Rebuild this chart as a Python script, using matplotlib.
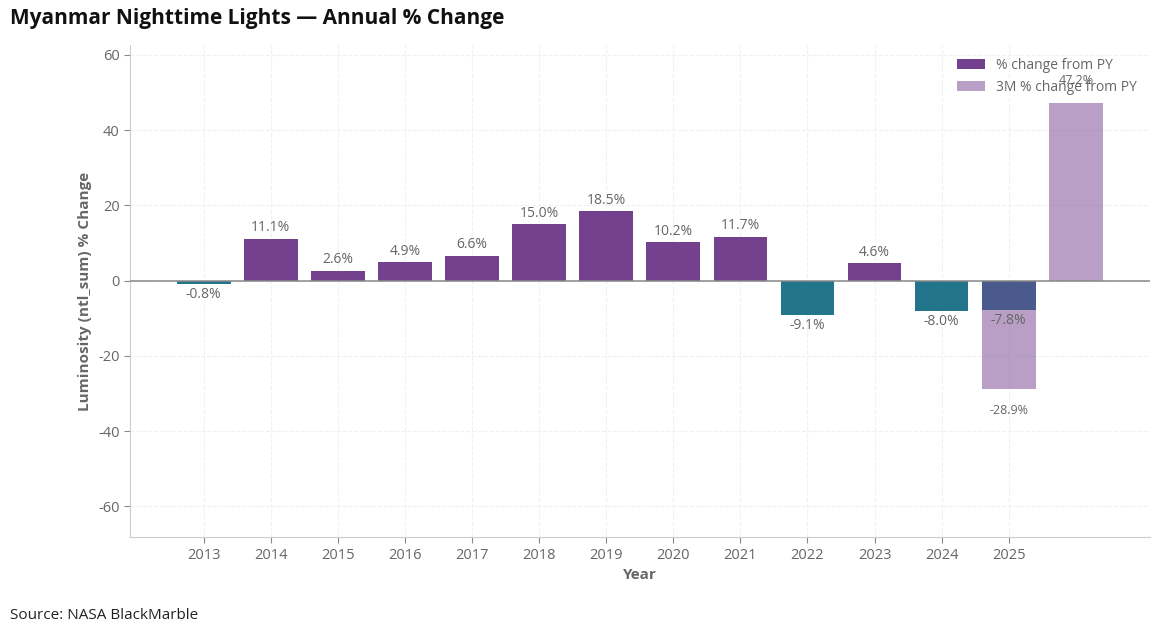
import numpy as np
import matplotlib
matplotlib.use("Agg")
import matplotlib.pyplot as plt
from matplotlib.patches import Patch

plt.rcParams["font.family"] = ["Open Sans", "DejaVu Sans"]
plt.rcParams["axes.unicode_minus"] = False

years = [2013, 2014, 2015, 2016, 2017, 2018, 2019, 2020, 2021, 2022, 2023, 2024, 2025]
pct_change = [-0.8, 11.1, 2.6, 4.9, 6.6, 15.0, 18.5, 10.2, 11.7, -9.1, 4.6, -8.0, -7.8]

# 3-month comparisons (last one sits right of 2025, no tick label)
m3_pos = [2025, 2026]
m3_change = [-28.9, 47.2]

purple = "#74418F"
teal = "#23758B"
grey_txt = "#666666"

fig = plt.figure(figsize=(11.6, 6.35), dpi=100)
ax = fig.add_axes([0.112, 0.154, 0.879, 0.775])

colors = [purple if v >= 0 else teal for v in pct_change]
ax.bar(years, pct_change, width=0.8, color=colors, zorder=2)
ax.bar(m3_pos, m3_change, width=0.8, color=purple, alpha=0.5, zorder=3)

for x, v in zip(years, pct_change):
    if v >= 0:
        ax.annotate(f"{v:.1f}%", (x, v), xytext=(0, 2.5), textcoords="offset points",
                    ha="center", va="bottom", fontsize=10, color=grey_txt, zorder=4)
    else:
        ax.annotate(f"{v:.1f}%", (x, v), xytext=(0, -2.5), textcoords="offset points",
                    ha="center", va="top", fontsize=10, color=grey_txt, zorder=4)

for x, v in zip(m3_pos, m3_change):
    if v >= 0:
        ax.annotate(f"{v:.1f}%", (x, v), xytext=(0, 16), textcoords="offset points",
                    ha="center", va="center", fontsize=9, color=grey_txt, zorder=4)
    else:
        ax.annotate(f"{v:.1f}%", (x, v), xytext=(0, -15), textcoords="offset points",
                    ha="center", va="center", fontsize=9, color=grey_txt, zorder=4)

ax.axhline(0, color="#888888", linewidth=1.1, zorder=3)

ax.set_xlim(2011.9, 2027.1)
ax.set_ylim(-68.2, 62.6)
ax.set_xticks(years)
ax.set_yticks([-60, -40, -20, 0, 20, 40, 60])
ax.tick_params(axis="both", colors="#888888", labelcolor=grey_txt, labelsize=10.5, length=4)

ax.grid(True, color="#f0f0f0", linestyle="--", linewidth=0.8, zorder=0)
ax.set_axisbelow(True)
for s in ["top", "right"]:
    ax.spines[s].set_visible(False)
for s in ["left", "bottom"]:
    ax.spines[s].set_color("#cccccc")

ax.set_xlabel("Year", fontsize=11, fontweight="bold", color=grey_txt)
ax.set_ylabel("Luminosity (ntl_sum) % Change", fontsize=11, fontweight="bold", color=grey_txt)

handles = [Patch(facecolor=purple, label="% change from PY"),
           Patch(facecolor=purple, alpha=0.5, label="3M % change from PY")]
leg = ax.legend(handles=handles, loc="upper right", frameon=False, fontsize=10,
                labelcolor=grey_txt, bbox_to_anchor=(1.0, 1.0))

fig.text(0.009, 0.971, "Myanmar Nighttime Lights \u2014 Annual % Change",
         fontsize=15, fontweight="bold", color="#111111", va="center", ha="left")
fig.text(0.009, 0.03, "Source: NASA BlackMarble", fontsize=11, color="#222222",
         va="center", ha="left")

fig.savefig("out.png", dpi=100)
